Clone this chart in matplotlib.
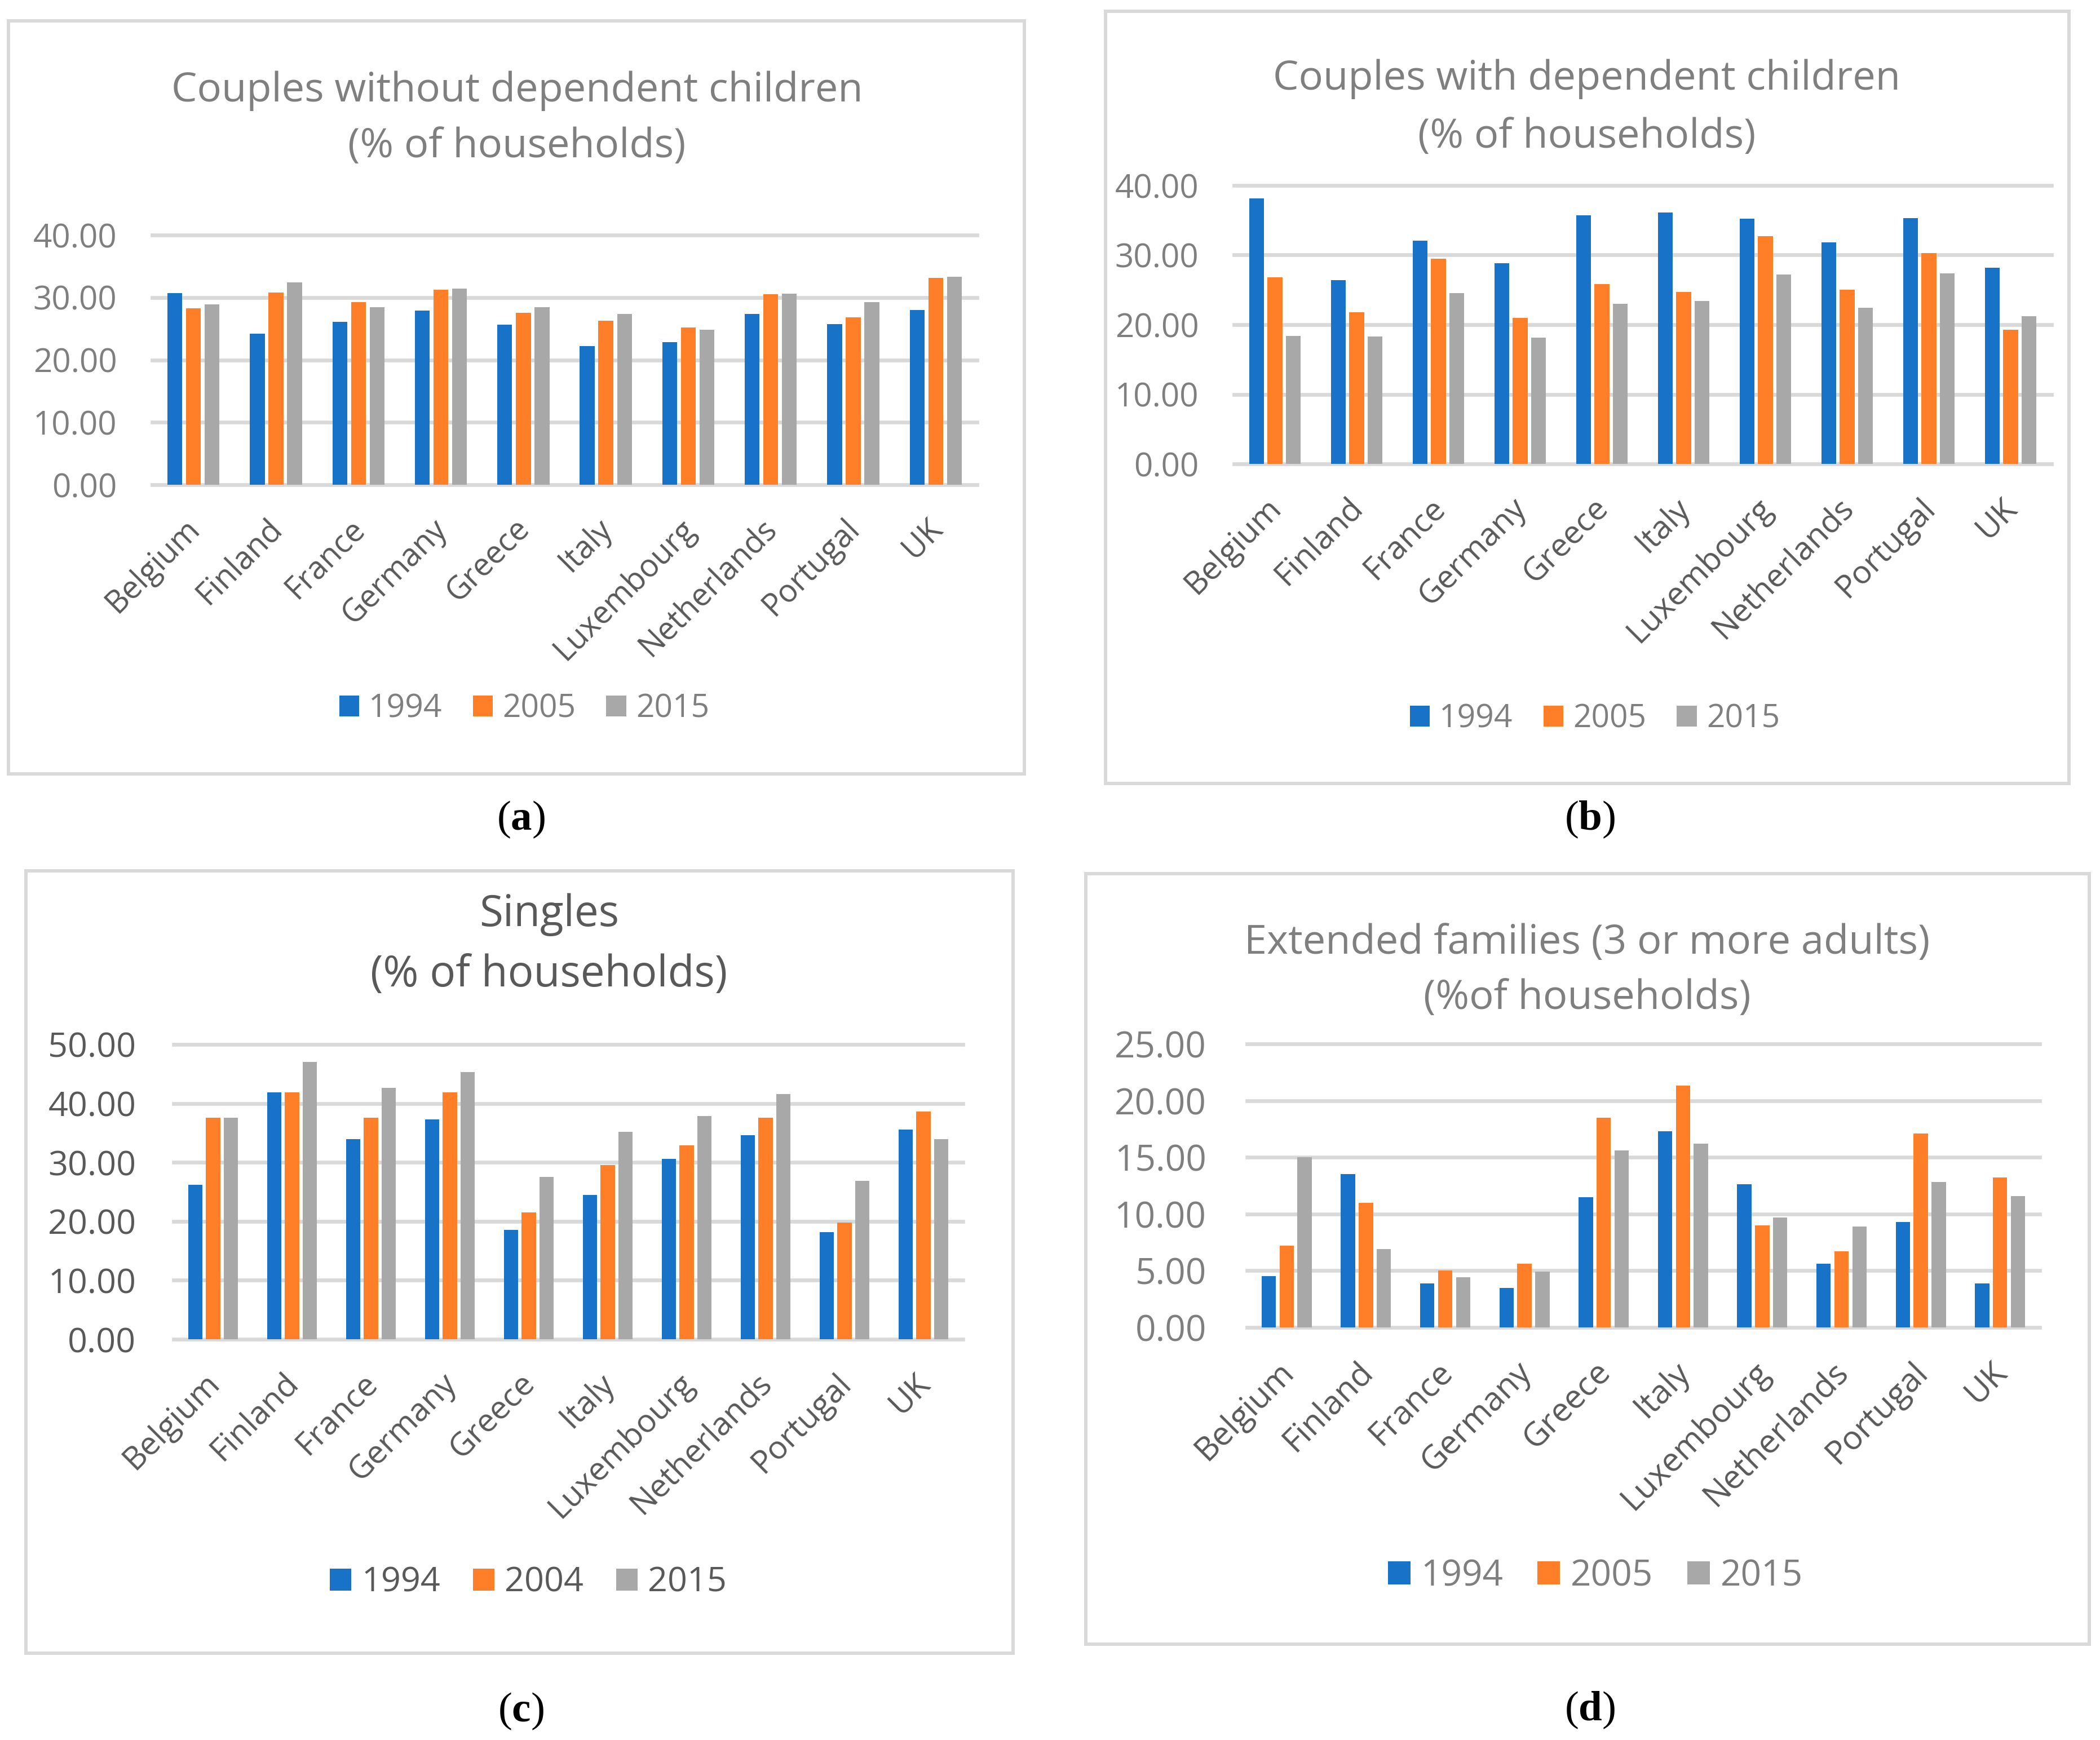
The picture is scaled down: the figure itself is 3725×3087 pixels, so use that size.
import numpy as np
import matplotlib.pyplot as plt
from matplotlib.patches import Rectangle
from matplotlib.ticker import FormatStrFormatter
from matplotlib.transforms import ScaledTranslation

plt.rcParams['font.family'] = ['Open Sans', 'DejaVu Sans']
plt.rcParams['mathtext.fontset'] = 'custom'
plt.rcParams['mathtext.rm'] = 'Liberation Serif'
plt.rcParams['mathtext.bf'] = 'Liberation Serif:bold'

countries = ["Belgium", "Finland", "France", "Germany", "Greece", "Italy",
             "Luxembourg", "Netherlands", "Portugal", "UK"]

# (a) couples without dependent children
a_1994 = [30.7, 24.2, 26.1, 27.9, 25.6, 22.2, 22.8, 27.4, 25.7, 28.0]
a_2005 = [28.3, 30.8, 29.3, 31.2, 27.5, 26.3, 25.2, 30.5, 26.8, 33.1]
a_2015 = [28.9, 32.4, 28.4, 31.4, 28.4, 27.4, 24.8, 30.6, 29.3, 33.3]
a_years = ["1994", "2005", "2015"]

# (b) couples with dependent children
b_1994 = [38.1, 26.4, 32.1, 28.8, 35.7, 36.1, 35.2, 31.8, 35.3, 28.2]
b_2005 = [26.8, 21.8, 29.5, 21.0, 25.8, 24.7, 32.7, 25.0, 30.3, 19.3]
b_2015 = [18.4, 18.3, 24.5, 18.1, 23.0, 23.4, 27.2, 22.4, 27.4, 21.2]
b_years = ["1994", "2005", "2015"]

# (c) singles
c_1994 = [26.2, 41.9, 33.9, 37.3, 18.5, 24.5, 30.6, 34.6, 18.2, 35.6]
c_2004 = [37.6, 41.9, 37.6, 41.9, 21.5, 29.5, 32.9, 37.6, 19.8, 38.6]
c_2015 = [37.6, 47.0, 42.6, 45.3, 27.5, 35.2, 37.9, 41.6, 26.9, 33.9]
c_years = ["1994", "2004", "2015"]

# (d) extended families
d_1994 = [4.5, 13.5, 3.9, 3.5, 11.5, 17.3, 12.6, 5.6, 9.3, 3.9]
d_2005 = [7.2, 11.0, 5.0, 5.6, 18.5, 21.3, 9.0, 6.7, 17.1, 13.2]
d_2015 = [15.0, 6.9, 4.4, 4.9, 15.6, 16.2, 9.7, 8.9, 12.8, 11.6]
d_years = ["1994", "2005", "2015"]

colors = ['#1873C8', '#FE7F27', '#A8A8A8']
grid_c = '#D9D9D9'
light = '#7F7F7F'
dark = '#595959'

W, H = 3725, 3087
fig = plt.figure(figsize=(W / 100, H / 100), dpi=100)


def frame(x0, y0, x1, y1):
    fig.patches.append(Rectangle((x0 / W, 1 - y1 / H), (x1 - x0) / W, (y1 - y0) / H,
                                 transform=fig.transFigure, fill=False,
                                 ec=grid_c, lw=4.3))


def panel(rect, series, years, ymax, ystep, tick_fs, tick_col, ypad, xfs, xpad):
    l, t, r, b = rect
    ax = fig.add_axes([l / W, 1 - b / H, (r - l) / W, (b - t) / H])
    x = np.arange(len(countries))
    step, width = 0.226, 0.18
    bars = []
    for k, vals in enumerate(series):
        bars.append(ax.bar(x + (k - 1) * step, vals, width, color=colors[k], zorder=2))
    ticks = np.arange(0, ymax + 0.01, ystep)
    for v in ticks:
        ax.axhline(v, color=grid_c, lw=4.8, zorder=0, clip_on=False)
    ax.set_xlim(-0.5, len(countries) - 0.5)
    ax.set_ylim(0, ymax)
    ax.set_yticks(ticks)
    ax.yaxis.set_major_formatter(FormatStrFormatter('%.2f'))
    ax.tick_params(axis='y', length=0, pad=ypad, labelsize=tick_fs, labelcolor=tick_col)
    ax.set_xticks(x)
    ax.set_xticklabels(countries, rotation=45, ha='right', va='top',
                       rotation_mode='anchor', fontsize=xfs, color=dark)
    ax.tick_params(axis='x', length=0, pad=xpad)
    shift = ScaledTranslation(-0.17, 0, fig.dpi_scale_trans)
    for lab in ax.get_xticklabels():
        lab.set_transform(lab.get_transform() + shift)
    for s in ax.spines.values():
        s.set_visible(False)
    ax.patch.set_alpha(0)
    return ax, bars


def legend(bars, years, cx, cy, fs, col):
    fig.legend(bars, years, loc='center', bbox_to_anchor=(cx / W, 1 - cy / H),
               ncol=3, frameon=False, fontsize=fs, labelcolor=col,
               handlelength=0.62, handleheight=0.62, handletextpad=0.3,
               columnspacing=0.95, borderpad=0, borderaxespad=0)


def title(cx, y1, y2, lines, fs, col):
    fig.text(cx / W, 1 - y1 / H, lines[0], ha='center', va='baseline', fontsize=fs, color=col)
    fig.text(cx / W, 1 - y2 / H, lines[1], ha='center', va='baseline', fontsize=fs, color=col)


def tag(cx, cy, letter):
    fig.text(cx / W, 1 - cy / H, r'($\mathbf{%s}$)' % letter, ha='center', va='center',
             fontsize=54, family='Liberation Serif', color='black')


# panel (a)
frame(15, 37, 1817, 1373)
title(917, 180, 279, ["Couples without dependent children", "(% of households)"], 52, light)
ax, bars = panel((270, 417, 1733, 860), [a_1994, a_2005, a_2015], a_years,
                 40, 10, 42, light, 45, 40, 36)
legend(bars, a_years, 930, 1258, 41, light)
tag(924, 1454, 'a')

# panel (b)
frame(1961, 20, 3670, 1390)
title(2815, 159, 262, ["Couples with dependent children", "(% of households)"], 52, light)
ax, bars = panel((2189, 329, 3639, 823), [b_1994, b_2005, b_2015], b_years,
                 40, 10, 42, light, 45, 41, 36)
legend(bars, b_years, 2829, 1276, 41, light)
tag(2820, 1454, 'b')

# panel (c)
frame(46, 1545, 1797, 2933)
title(974, 1643, 1750, ["Singles", "(% of households)"], 55, dark)
ax, bars = panel((308, 1853, 1708, 2376), [c_1994, c_2004, c_2015], c_years,
                 50, 10, 44, dark, 48, 41, 36)
legend(bars, c_years, 937, 2808, 44, dark)
tag(924, 3036, 'c')

# panel (d)
frame(1926, 1550, 3706, 2917)
title(2815, 1692, 1790, ["Extended families (3 or more adults)", "(%of households)"], 52, light)
ax, bars = panel((2212, 1852, 3618, 2355), [d_1994, d_2005, d_2015], d_years,
                 25, 5, 46, light, 52, 42, 36)
legend(bars, d_years, 2830, 2796, 46, light)
tag(2820, 3034, 'd')

fig.savefig('out.png', dpi=100, facecolor='white')
